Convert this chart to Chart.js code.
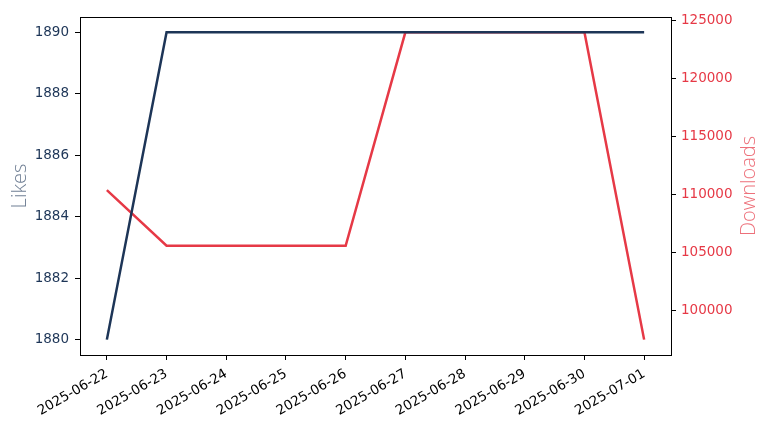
<!DOCTYPE html>
<html>
<head>
<meta charset="utf-8">
<script src="https://cdn.jsdelivr.net/npm/chart.js@4"></script>
<style>
  html, body { margin: 0; padding: 0; background: #fff; }
  #wrap { width: 768px; height: 432px; }
</style>
</head>
<body>
<div id="wrap"><canvas id="likesChart" width="768" height="432"></canvas></div>
<script>
// Data
const dates = ['2025-06-22', '2025-06-23', '2025-06-24', '2025-06-25', '2025-06-26',
               '2025-06-27', '2025-06-28', '2025-06-29', '2025-06-30', '2025-07-01'];
const likes = [1880, 1890, 1890, 1890, 1890, 1890, 1890, 1890, 1890, 1890];
const downloads = [110400, 105600, 105600, 105600, 105600, 124000, 124000, 124000, 124000, 97500];
const likesTicks = [1880, 1882, 1884, 1886, 1888, 1890];
const downloadTicks = [100000, 105000, 110000, 115000, 120000, 125000];

const navy = '#1d3557';
const red = '#e63946';
const tickFont = { family: 'DejaVu Sans', size: 13.5 };
const titleFont = '300 20px "Open Sans"';

// matplotlib style box + axis titles both reading bottom-to-top
const frameBox = {
    id: 'frameBox',
    afterDraw(chart) {
        const a = chart.chartArea;
        const c = chart.ctx;
        c.save();
        c.strokeStyle = '#000';
        c.lineWidth = 1;
        c.strokeRect(Math.round(a.left) + 0.5, Math.round(a.top) + 0.5,
                     Math.round(a.right - a.left), Math.round(a.bottom - a.top));
        const midY = (a.top + a.bottom) / 2;
        c.font = titleFont;
        c.textAlign = 'center';
        c.textBaseline = 'middle';
        [['Likes', 20, 'rgba(29,53,87,0.66)'], ['Downloads', 749, 'rgba(230,57,70,0.72)']].forEach(([t, x, col]) => {
            c.save();
            c.translate(x, midY);
            c.rotate(-Math.PI / 2);
            c.fillStyle = col;
            c.fillText(t, 0, 0);
            c.restore();
        });
        c.restore();
    }
};

const ctx = document.getElementById('likesChart').getContext('2d');
new Chart(ctx, {
    type: 'line',
    data: {
        datasets: [{
            label: 'Likes',
            data: likes.map((v, i) => ({ x: i, y: v })),
            borderColor: navy,
            borderWidth: 2.5,
            pointRadius: 0,
            tension: 0,
            yAxisID: 'y'
        }, {
            label: 'Downloads',
            data: downloads.map((v, i) => ({ x: i, y: v })),
            borderColor: red,
            borderWidth: 2.5,
            pointRadius: 0,
            tension: 0,
            yAxisID: 'y2'
        }]
    },
    options: {
        responsive: false,
        animation: false,
        devicePixelRatio: 1,
        layout: { padding: { top: 17, left: 0, right: 0, bottom: 0 } },
        plugins: { legend: { display: false }, tooltip: { enabled: false } },
        scales: {
            x: {
                type: 'linear',
                min: -0.45,
                max: 9.45,
                afterBuildTicks: s => { s.ticks = dates.map((d, i) => ({ value: i })); },
                afterFit: s => { s.height = 432 - 355; },
                grid: { drawOnChartArea: false, drawTicks: true, tickLength: 5, color: '#000' },
                border: { display: true, color: '#000' },
                ticks: {
                    color: '#000',
                    font: tickFont,
                    maxRotation: 30,
                    minRotation: 30,
                    padding: 6,
                    callback: v => dates[v]
                }
            },
            y: {
                position: 'left',
                min: 1879.5,
                max: 1890.5,
                afterBuildTicks: s => { s.ticks = likesTicks.map(v => ({ value: v })); },
                afterFit: s => { s.width = 80; },
                grid: { drawOnChartArea: false, drawTicks: true, tickLength: 5, color: '#000' },
                border: { display: true, color: '#000' },
                ticks: { color: navy, font: tickFont, padding: 6, callback: v => String(v) }
            },
            y2: {
                position: 'right',
                min: 96175,
                max: 125325,
                afterBuildTicks: s => { s.ticks = downloadTicks.map(v => ({ value: v })); },
                afterFit: s => { s.width = 768 - 671; },
                grid: { drawOnChartArea: false, drawTicks: true, tickLength: 5, color: '#000' },
                border: { display: true, color: '#000' },
                ticks: { color: red, font: tickFont, padding: 5, callback: v => String(v) }
            }
        }
    },
    plugins: [frameBox]
});
</script>
</body>
</html>
